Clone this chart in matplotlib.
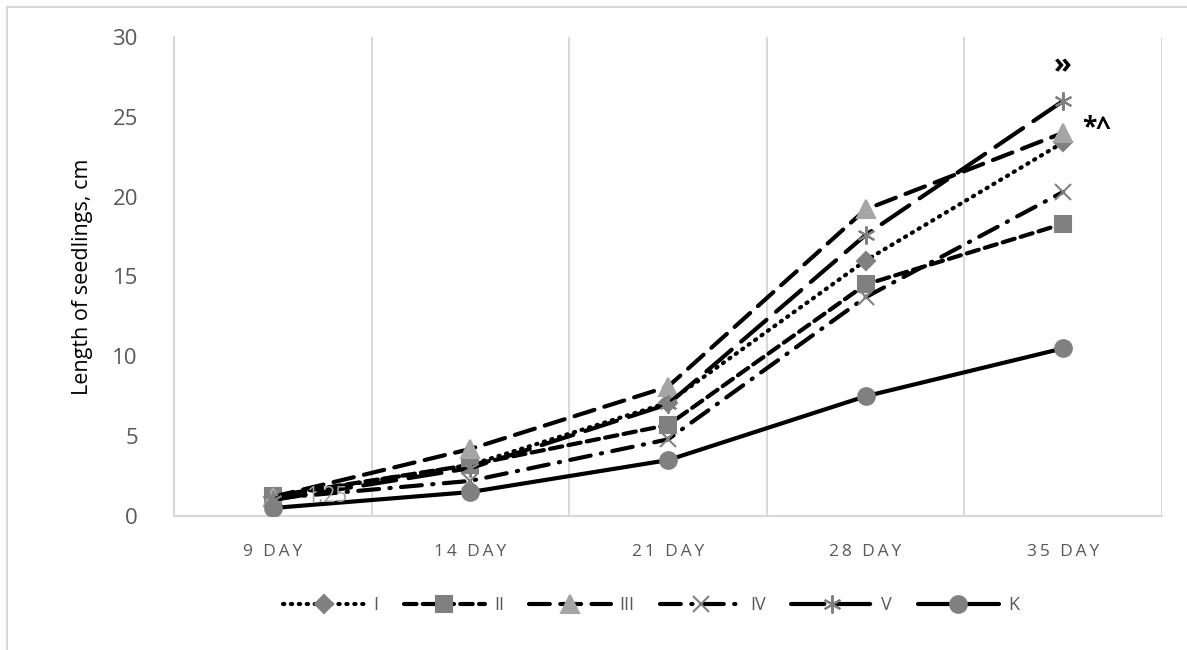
import matplotlib
matplotlib.use("Agg")
import matplotlib.pyplot as plt
from matplotlib.lines import Line2D

categories = ["9 DAY", "14 DAY", "21 DAY", "28 DAY", "35 DAY"]
series_names = ["I", "II", "III", "IV", "V", "K"]
I_vals = [1.2, 3.2, 7.1, 16.0, 23.4]
II_vals = [1.25, 3.2, 5.7, 14.5, 18.3]
III_vals = [1.2, 4.2, 8.1, 19.2, 24.0]
IV_vals = [1.1, 2.2, 4.8, 13.7, 20.3]
V_vals = [1.0, 3.0, 7.0, 17.6, 26.0]
K_vals = [0.5, 1.5, 3.5, 7.5, 10.5]
yticks = [0, 5, 10, 15, 20, 25, 30]

plt.rcParams['font.family'] = ['Open Sans', 'DejaVu Sans']

fig = plt.figure(figsize=(11.87, 6.5), dpi=100)
ax = fig.add_axes([174/1187, 1 - 516/650, (1162-174)/1187, (516-37)/650])

x = list(range(len(categories)))
dark = '#808080'
light = '#A5A5A5'
lw = 3.0
styles = [
    dict(data=I_vals, ls=(0, (0.3, 1.6)), marker='D', color=dark, ms=9),
    dict(data=II_vals, ls=(0, (3, 1.5)), marker='s', color=dark, ms=11),
    dict(data=III_vals, ls=(0, (5, 2.5)), marker='^', color=light, ms=13),
    dict(data=IV_vals, ls=(0, (5, 2.5, 0.3, 2.5)), marker='x', color=dark, ms=11),
    dict(data=V_vals, ls=(0, (8, 3)), marker=(6, 2, 0), color=dark, ms=13),
    dict(data=K_vals, ls='-', marker='o', color=dark, ms=12),
]
handles = []
for name, st in zip(series_names, styles):
    ln, = ax.plot(x, st['data'], color='black', lw=lw, linestyle=st['ls'],
                  marker=st['marker'], markersize=st['ms'],
                  markerfacecolor=st['color'], markeredgecolor=st['color'],
                  markeredgewidth=1.5, label=name,
                  dash_capstyle='round', solid_capstyle='round', zorder=3)
    handles.append(ln)

ax.text(0.17, II_vals[0], "1.25", fontsize=15, color='#A0A0A0', va='center', ha='left', zorder=4)
ax.text(4.0, 28.2, "»", fontsize=21, fontweight='bold', color='black', ha='center', va='center')
ax.text(4.17, 24.3, "*^", fontsize=19, fontweight='bold', color='black', ha='center', va='center')

ax.set_xlim(-0.5, 4.5)
ax.set_ylim(0, 30)
ax.set_xticks(x)
sp = '\u2009'
ax.set_xticklabels([sp.join(list(c)) for c in categories])
ax.set_yticks(yticks)
ax.tick_params(length=0, colors='#595959')
for lab in ax.get_xticklabels():
    lab.set_fontsize(12.5)
for lab in ax.get_yticklabels():
    lab.set_fontsize(16)
ax.tick_params(axis='x', pad=20)
ax.tick_params(axis='y', pad=26)
for b in [0.5, 1.5, 2.5, 3.5, 4.5]:
    ax.axvline(b, color='#D9D9D9', lw=1.5, zorder=1)
for s in ['top', 'right']:
    ax.spines[s].set_visible(False)
for s in ['left', 'bottom']:
    ax.spines[s].set_color('#D9D9D9')
    ax.spines[s].set_linewidth(1.5)

ax.set_ylabel("Length of seedlings, cm", fontsize=15.5, color='black', labelpad=14)

leg = fig.legend(handles=handles, loc='center', bbox_to_anchor=(651/1187, 1 - 605/650),
                 ncol=6, frameon=False, fontsize=13, handlelength=4.5, columnspacing=1.4,
                 handletextpad=0.5)
for t in leg.get_texts():
    t.set_color('#595959')

# outer chart border
fig.add_artist(Line2D([7/1187, 7/1187], [0, 1 - 7/650], transform=fig.transFigure, color='#D9D9D9', lw=1.5))
fig.add_artist(Line2D([7/1187, 1], [1 - 7/650, 1 - 7/650], transform=fig.transFigure, color='#D9D9D9', lw=1.5))

fig.savefig("out.png", dpi=100)
